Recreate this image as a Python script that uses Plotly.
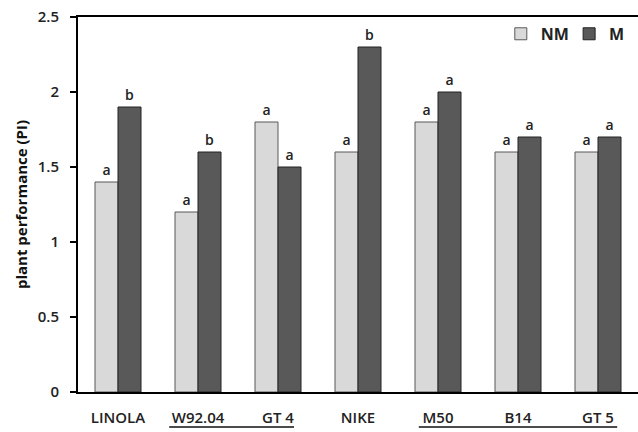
import plotly.graph_objects as go

categories = ["LINOLA", "W92.04", "GT 4", "NIKE", "M50", "B14", "GT 5"]
nm_values = [1.4, 1.2, 1.8, 1.6, 1.8, 1.6, 1.6]
m_values = [1.9, 1.6, 1.5, 2.3, 2.0, 1.7, 1.7]
nm_letters = ["a", "a", "a", "a", "a", "a", "a"]
m_letters = ["b", "b", "a", "b", "a", "a", "a"]
y_ticks = [0, 0.5, 1, 1.5, 2, 2.5]
y_tick_labels = ["0", "0.5", "1", "1.5", "2", "2.5"]

font_family = "Open Sans, DejaVu Sans, sans-serif"

fig = go.Figure()
fig.add_trace(go.Bar(
    x=categories, y=nm_values, name="NM", legend="legend",
    marker=dict(color="#d9d9d9", line=dict(color="#595959", width=1)),
    text=nm_letters, textposition="outside", cliponaxis=False,
    textfont=dict(family=font_family, size=14, color="#222222", weight=600),
))
fig.add_trace(go.Bar(
    x=categories, y=m_values, name="M", legend="legend2",
    marker=dict(color="#595959", line=dict(color="#222222", width=1)),
    text=m_letters, textposition="outside", cliponaxis=False,
    textfont=dict(family=font_family, size=14, color="#222222", weight=600),
))

legend_font = dict(family=font_family, size=16, color="#222222", weight="bold")

fig.update_layout(
    width=638, height=432,
    margin=dict(l=78, r=0, t=17, b=40),
    paper_bgcolor="white", plot_bgcolor="white",
    barmode="group", bargap=0.425, bargroupgap=0,
    showlegend=True,
    legend=dict(orientation="h", x=0.755, y=0.955, xanchor="left", yanchor="middle",
                font=legend_font, bgcolor="rgba(0,0,0,0)", itemwidth=30),
    legend2=dict(orientation="h", x=0.877, y=0.955, xanchor="left", yanchor="middle",
                 font=legend_font, bgcolor="rgba(0,0,0,0)", itemwidth=30),
    xaxis=dict(showline=True, linecolor="#000000", linewidth=2, mirror=True,
               ticks="", showgrid=False, range=[-0.5, 6.5], ticklabelstandoff=11,
               automargin=False,
               tickfont=dict(family=font_family, size=15, color="#222222", weight=600)),
    yaxis=dict(showline=True, linecolor="#000000", linewidth=2,
               range=[0, 2.5], tickvals=y_ticks, ticktext=y_tick_labels,
               ticks="outside", ticklen=6, tickwidth=1.5, tickcolor="#000000",
               showgrid=False, zeroline=False, ticklabelstandoff=8, automargin=False,
               tickfont=dict(family=font_family, size=15, color="#222222", weight=600),
               title=dict(text="plant performance (PI)", standoff=6,
                          font=dict(family=font_family, size=15, color="#111111", weight="bold"))),
)

fig.add_shape(type="line", xref="x", yref="paper", x0=0.64, x1=2.2, y0=-0.093, y1=-0.093,
              line=dict(color="#111111", width=1.5))
fig.add_shape(type="line", xref="x", yref="paper", x0=3.76, x1=6.24, y0=-0.093, y1=-0.093,
              line=dict(color="#111111", width=1.5))

fig.write_html("out.html")
